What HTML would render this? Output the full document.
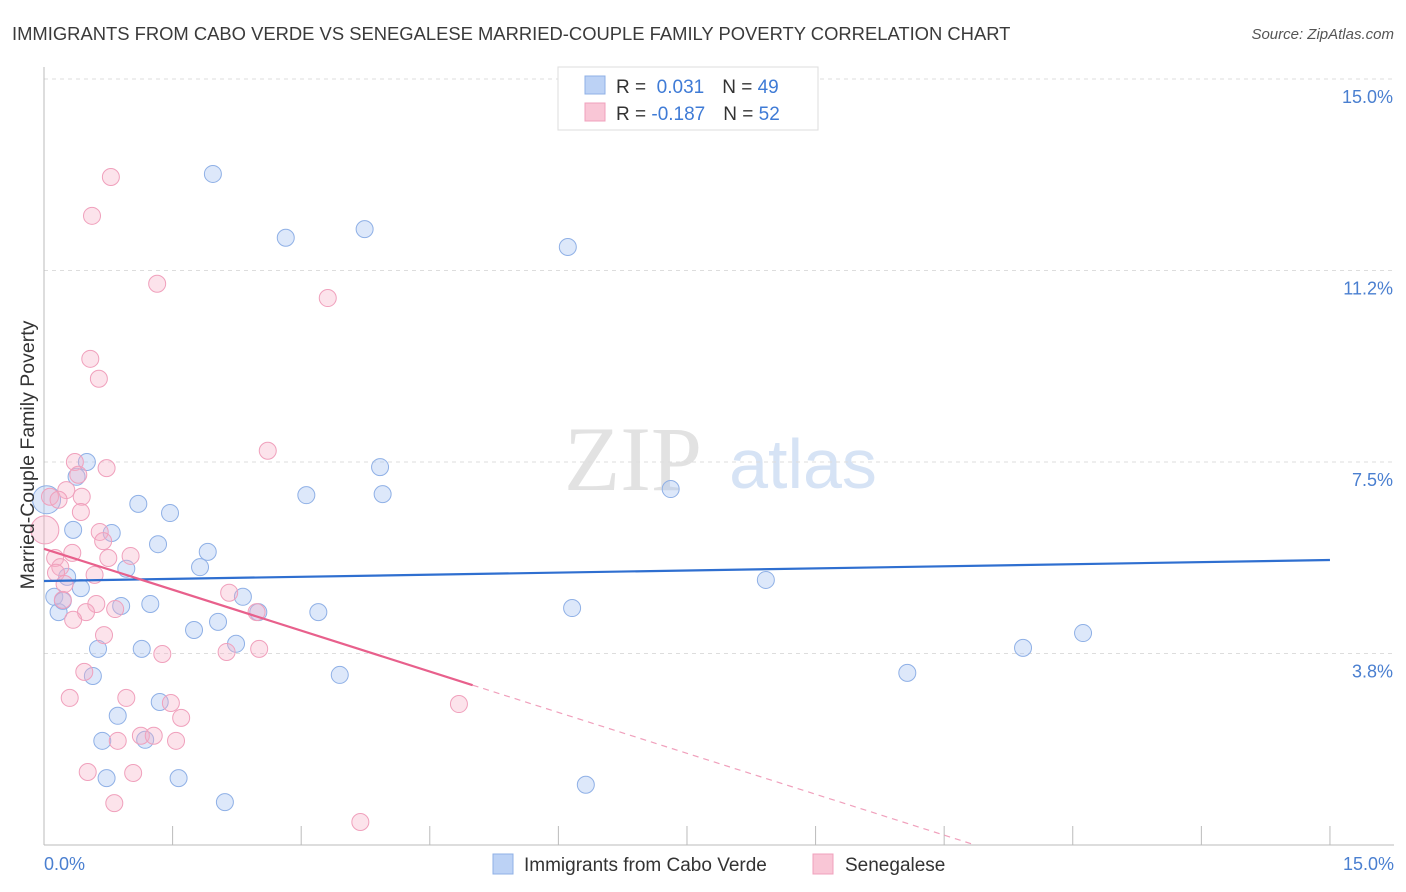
<!DOCTYPE html>
<html><head><meta charset="utf-8">
<style>
body{margin:0;background:#fff;font-family:"Liberation Sans",sans-serif;}
svg{display:block}
</style></head>
<body>
<svg id="chart" width="1406" height="892" xmlns="http://www.w3.org/2000/svg" font-family="Liberation Sans, sans-serif">
<text x="12" y="40" font-size="18.4" fill="#3a3a3a">IMMIGRANTS FROM CABO VERDE VS SENEGALESE MARRIED-COUPLE FAMILY POVERTY CORRELATION CHART</text>
<text x="1394" y="39" font-size="15" fill="#555" font-style="italic" text-anchor="end">Source: ZipAtlas.com</text>
<g>
<text x="633" y="490" font-size="92" fill="#e2e2e2" font-family="Liberation Serif, serif" text-anchor="middle">ZIP</text>
<text x="803" y="488" font-size="70" fill="#d6e3f5" text-anchor="middle">atlas</text>
</g>
<g id="grid"></g>
<g id="axes"></g>
<g id="marks"></g>
<text transform="translate(34,455) rotate(-90)" font-size="19.5" fill="#333" text-anchor="middle">Married-Couple Family Poverty</text>
<g>
<rect x="558" y="67" width="260" height="63" fill="#fff" stroke="#ddd"/>
<rect x="585" y="76" width="20" height="18" fill="#bcd2f5" stroke="#8fb0e6"/>
<rect x="585" y="103" width="20" height="18" fill="#f9c6d6" stroke="#f0a0bc"/>
<text x="616" y="93" font-size="19" fill="#333">R = <tspan fill="#3f7bd6">&#160;0.031</tspan><tspan dx="18">N = </tspan><tspan fill="#3f7bd6">49</tspan></text>
<text x="616" y="120" font-size="19" fill="#333">R = <tspan fill="#3f7bd6">-0.187</tspan><tspan dx="18">N = </tspan><tspan fill="#3f7bd6">52</tspan></text>
</g>
<g>
<rect x="493" y="854" width="20" height="20" fill="#bcd2f5" stroke="#8fb0e6"/>
<text x="524" y="871" font-size="19" fill="#333">Immigrants from Cabo Verde</text>
<rect x="813" y="854" width="20" height="20" fill="#f9c6d6" stroke="#f0a0bc"/>
<text x="845" y="871" font-size="19" fill="#333">Senegalese</text>
</g>
</svg>
<script>
const blueX=[1.97,2.82,3.74,6.11,0.50,0.38,3.92,3.06,3.95,7.31,1.10,1.47,0.34,0.79,1.33,1.91,1.82,0.96,0.27,0.43,0.12,0.17,0.22,0.90,1.24,2.32,2.50,3.20,6.16,2.03,1.75,2.24,0.63,1.14,0.57,3.45,1.35,0.86,0.68,1.18,0.73,1.57,2.11,6.32,8.42,10.07,11.42,12.12,0.03];
const blueY=[13.14,11.89,12.06,11.71,7.50,7.21,7.40,6.85,6.87,6.97,6.68,6.50,6.17,6.11,5.89,5.74,5.44,5.41,5.25,5.03,4.86,4.56,4.78,4.68,4.72,4.86,4.56,4.56,4.64,4.37,4.21,3.94,3.84,3.84,3.31,3.33,2.80,2.53,2.04,2.06,1.31,1.31,0.84,1.18,5.19,3.37,3.86,4.15,6.76];
const pinkX=[0.78,0.56,1.32,3.31,0.54,0.64,2.61,0.36,0.73,0.40,0.26,0.07,0.44,0.17,0.43,0.01,0.65,0.69,1.01,0.33,0.13,0.75,0.19,0.14,0.59,0.24,2.16,0.22,0.61,0.83,0.49,0.34,2.48,0.70,1.38,2.13,2.51,0.47,0.30,0.96,1.48,1.60,4.84,1.13,1.28,0.86,1.54,0.51,1.04,0.82,3.69];
const pinkY=[13.08,12.32,10.99,10.71,9.52,9.13,7.72,7.50,7.38,7.25,6.95,6.82,6.82,6.76,6.52,6.17,6.13,5.95,5.66,5.72,5.62,5.62,5.44,5.33,5.29,5.11,4.94,4.80,4.72,4.62,4.56,4.41,4.56,4.11,3.74,3.78,3.84,3.39,2.88,2.88,2.78,2.49,2.76,2.14,2.14,2.04,2.04,1.43,1.41,0.82,0.45];
const yTicks=[15.0,11.25,7.5,3.75];
const yTickLabels=["15.0%","11.2%","7.5%","3.8%"];
const xTickLabels=["0.0%","15.0%"];
const blueTrend=[5.17,5.58];
const pinkTrend=[5.80,-0.534];
const pinkSolidEnd=5.0;
const NS="http://www.w3.org/2000/svg";
const xs=v=>44+v*85.73, ys=v=>845-v*51.07;
function mk(tag,attrs,parent){const e=document.createElementNS(NS,tag);for(const k in attrs)e.setAttribute(k,attrs[k]);document.getElementById(parent).appendChild(e);return e;}
yTicks.forEach((t,i)=>{
 const g=mk('line',{x1:44,x2:1394,y1:ys(t),y2:ys(t),stroke:'#ddd','stroke-dasharray':'4,4'},'grid');
 
 
 const l=mk('text',{x:1393,y:ys(t)+24,'font-size':18,fill:'#4a7fd0','text-anchor':'end'},'grid');
 l.textContent=yTickLabels[i];
 
 
});
const ax=mk('line',{x1:44,x2:1394,y1:845,y2:845,stroke:'#bbb'},'axes');


const ay=mk('line',{x1:44,x2:44,y1:67,y2:845,stroke:'#bbb'},'axes');


for(let i=0;i<=10;i++){const t=mk('line',{x1:xs(i*1.5),x2:xs(i*1.5),y1:826,y2:845,stroke:'#bbb'},'axes');
 
 }
[[0,'start',44],[15,'end',1394]].forEach((d,i)=>{const t=mk('text',{x:d[2],y:870,'font-size':18,fill:'#4a7fd0','text-anchor':d[1]},'axes');t.textContent=xTickLabels[i];
 
 });
function dots(X,Y,fill,stroke,name){X.forEach((x,i)=>{const big=(x<0.05);const c=mk('circle',{cx:xs(x),cy:ys(Y[i]),r:big?14:8.5,fill:fill,stroke:stroke,'stroke-width':1},'marks');
 
 });}
dots(blueX,blueY,'rgba(170,198,242,0.4)','#8fb0e6','cabo-verde-point');
dots(pinkX,pinkY,'rgba(246,175,198,0.35)','#f0a0bc','senegalese-point');
const bl=mk('line',{x1:xs(0),y1:ys(blueTrend[0]),x2:xs(15),y2:ys(blueTrend[1]),stroke:'#2f6fd0','stroke-width':2.2},'marks');


const pe=-pinkTrend[0]/pinkTrend[1];
const pl=mk('line',{x1:xs(0),y1:ys(pinkTrend[0]),x2:xs(pinkSolidEnd),y2:ys(pinkTrend[0]+pinkTrend[1]*pinkSolidEnd),stroke:'#e8608c','stroke-width':2.2},'marks');


const pd=mk('line',{x1:xs(pinkSolidEnd),y1:ys(pinkTrend[0]+pinkTrend[1]*pinkSolidEnd),x2:xs(pe),y2:ys(0),stroke:'#f0a0bc','stroke-width':1.2,'stroke-dasharray':'6,5'},'marks');


</script>
</body></html>
